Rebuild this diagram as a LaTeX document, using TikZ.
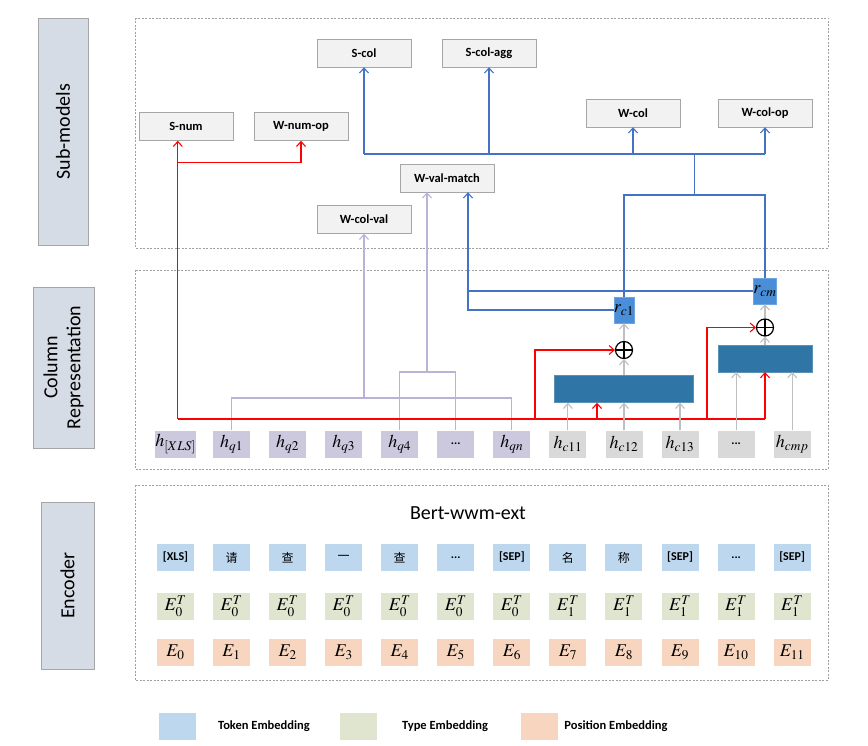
\documentclass[tikz,border=0pt]{standalone}
\usepackage{mathptmx}
\usepackage{fontspec}
\setmainfont{Carlito}
\newfontfamily\cjk{Noto Sans CJK SC}
\usetikzlibrary{arrows.meta}

\definecolor{linegray}{HTML}{A6A6A6}
\definecolor{framegray}{HTML}{A0A0A0}
\definecolor{boxgray}{HTML}{F2F2F2}
\definecolor{sidefill}{HTML}{D6DCE5}
\definecolor{hqfill}{HTML}{CCC8DD}
\definecolor{hcfill}{HTML}{D9D9D9}
\definecolor{encfill}{HTML}{2F75A5}
\definecolor{rfill}{HTML}{4A8ED8}
\definecolor{tokfill}{HTML}{BDD7EE}
\definecolor{typefill}{HTML}{E0E5D0}
\definecolor{posfill}{HTML}{F8D5BE}
\definecolor{bluelinec}{HTML}{4472C4}
\definecolor{purplelinec}{HTML}{BCB2D8}
\definecolor{graylinec}{HTML}{BFBFBF}

\newcommand{\tdots}{{\bfseries\fontsize{12}{12}\selectfont ...}}
\newcommand{\zh}[1]{{\cjk\mdseries\fontsize{12}{14}\selectfont #1}}

\begin{document}
\begin{tikzpicture}[x=1pt, y=-1pt,
  >={Straight Barb[length=5pt,width=9pt]},
  modbox/.style={draw=linegray, fill=boxgray, minimum width=94pt, minimum height=28pt, inner sep=0pt, font=\bfseries\fontsize{12.5}{14}\selectfont},
  sidebox/.style={draw=linegray, fill=sidefill, inner sep=0pt, rotate=90, align=center, font=\fontsize{20}{23}\selectfont},
  cellbox/.style={minimum width=37pt, minimum height=27pt, inner sep=0pt, font=\fontsize{18}{18}\selectfont},
  hqbox/.style={cellbox, fill=hqfill},
  hcbox/.style={cellbox, fill=hcfill},
  tokbox/.style={cellbox, fill=tokfill, font=\bfseries\fontsize{12}{14}\selectfont},
  typebox/.style={cellbox, fill=typefill},
  posbox/.style={cellbox, fill=posfill},
  encbox/.style={fill=encfill, draw=encfill!80!white, minimum height=27pt, inner sep=0pt},
  rvec/.style={fill=rfill, draw=rfill!80!white, minimum height=26pt, inner sep=0pt, font=\fontsize{18}{18}\selectfont},
  addnode/.style={circle, draw=black, line width=1.2pt, fill=white, minimum size=17pt, inner sep=0pt,
    path picture={\draw[line width=1.2pt] (path picture bounding box.north) -- (path picture bounding box.south)
      (path picture bounding box.west) -- (path picture bounding box.east);}},
  framedash/.style={draw=framegray, dashed, dash pattern=on 2pt off 1.5pt, line width=0.5pt},
  blueline/.style={draw=bluelinec, line width=1.1pt},
  redline/.style={draw=red, line width=1.1pt},
  purpleline/.style={draw=purplelinec, line width=1.1pt},
  grayline/.style={draw=graylinec, line width=1.1pt},
  legtext/.style={font=\bfseries\fontsize{12.5}{14}\selectfont}
]
  \useasboundingbox (0,0) rectangle (868,746);

  % frames and side labels
  \draw[framedash] (135,18) rectangle (828,248);
  \draw[framedash] (135,270) rectangle (828,469);
  \draw[framedash] (135,485) rectangle (828,680);
  \node[sidebox, minimum width=227pt, minimum height=50pt] (lsub) at (63,131.5) {Sub-models};
  \node[sidebox, minimum width=161pt, minimum height=61pt] (lcol) at (63.5,367.5) {Column\\Representation};
  \node[sidebox, minimum width=167pt, minimum height=53pt] (lenc) at (67.5,585.5) {Encoder};

  % sub-models
  \node[modbox] (scol) at (364,53) {S-col};
  \node[modbox] (scolagg) at (489,53) {S-col-agg};
  \node[modbox] (snum) at (186,126.5) {S-num};
  \node[modbox] (wnop) at (301,126.5) {W-num-op};
  \node[modbox] (wcol) at (633,113) {W-col};
  \node[modbox] (wcolop) at (765,113) {W-col-op};
  \node[modbox] (wvm) at (447,178) {W-val-match};
  \node[modbox] (wcv) at (364,219.5) {W-col-val};

  % column representation
  \node[hqbox] (hxls) at (175.5,444) {$h_{[XLS]}$};
  \node[hqbox] (hq1) at (231.6,444) {$h_{q1}$};
  \node[hqbox] (hq2) at (287.6,444) {$h_{q2}$};
  \node[hqbox] (hq3) at (343.7,444) {$h_{q3}$};
  \node[hqbox] (hq4) at (399.7,444) {$h_{q4}$};
  \node[hqbox] (hqd) at (455.8,444) {\tdots};
  \node[hqbox] (hqn) at (511.9,444) {$h_{qn}$};
  \node[hcbox] (hc11) at (567.9,444) {$h_{c11}$};
  \node[hcbox] (hc12) at (624,444) {$h_{c12}$};
  \node[hcbox] (hc13) at (680,444) {$h_{c13}$};
  \node[hcbox] (hcd) at (736.1,444) {\tdots};
  \node[hcbox] (hcmp) at (792.2,444) {$h_{cmp}$};

  \node[encbox, minimum width=139pt] (enc1) at (624,389) {};
  \node[encbox, minimum width=94.5pt] (encm) at (765,358.3) {};
  \node[addnode] (add1) at (624,350) {};
  \node[addnode] (addm) at (765,327.5) {};
  \node[rvec, minimum width=19pt] (rc1) at (624,310) {$r_{c1}$};
  \node[rvec, minimum width=22pt] (rcm) at (765,291) {$r_{cm}$};

  % purple links
  \coordinate (pa) at (364,398);
  \coordinate (pb) at (427,372);
  \coordinate (vp) at ([xshift=-20pt]wvm.south);
  \draw[purpleline] (hq1.north) |- (pa) -| (hqn.north);
  \draw[purpleline,->] (pa) -- (wcv.south);
  \draw[purpleline] (hq4.north) |- (pb) -| (hqd.north);
  \draw[purpleline,->] (pb) -- (vp);

  % red links
  \coordinate (sn) at ([xshift=-8.2pt]snum.south);
  \coordinate (rl) at (177.8,419);
  \coordinate (rj) at (177.8,162.7);
  \coordinate (ra) at (535,419);
  \coordinate (rc) at (597,419);
  \coordinate (rb) at (707,419);
  \draw[redline,->] (rl) -- (sn);
  \draw[redline,->] (rj) -| (wnop.south);
  \draw[redline] (rl) -- (rl -| encm.south);
  \draw[redline,->] (rl -| encm.south) -- (encm.south);
  \draw[redline,->] (rc) -- (rc |- enc1.south);
  \draw[redline,->] (ra) |- (add1.west);
  \draw[redline,->] (rb) |- (addm.west);

  % blue links
  \coordinate (jb) at (694.7,195);
  \coordinate (busl) at (364,154);
  \coordinate (busr) at (765,154);
  \coordinate (vb) at ([xshift=21pt]wvm.south);
  \draw[blueline] (rc1.north) |- (jb) -| (rcm.north);
  \draw[blueline] (jb) -- (jb |- busl);
  \draw[blueline] (busl) -- (busr);
  \draw[blueline,->] (busl) -- (scol.south);
  \draw[blueline,->] (scolagg.south |- busl) -- (scolagg.south);
  \draw[blueline,->] (wcol.south |- busl) -- (wcol.south);
  \draw[blueline,->] (busr) -- (wcolop.south);
  \draw[blueline,->] (rc1.west) -| (vb);
  \draw[blueline] (rcm.west) -- (vb |- rcm.west);

  % gray links
  \draw[grayline,->] (hc11.north) -- (hc11.north |- enc1.south);
  \draw[grayline,->] (hc12.north) -- (hc12.north |- enc1.south);
  \draw[grayline,->] (hc13.north) -- (hc13.north |- enc1.south);
  \draw[grayline,->] (hcd.north) -- (hcd.north |- encm.south);
  \draw[grayline,->] (hcmp.north) -- (hcmp.north |- encm.south);
  \draw[grayline,->] (enc1.north) -- (add1.south);
  \draw[grayline,->] (add1.north) -- (rc1.south);
  \draw[grayline,->] (encm.north) -- (addm.south);
  \draw[grayline,->] (addm.north) -- (rcm.south);

  % encoder
  \node[font=\fontsize{20}{24}\selectfont] (bert) at (468,513) {Bert-wwm-ext};
  \foreach \lab [count=\i from 0] in {[XLS], \zh{请}, \zh{查}, \zh{一}, \zh{查}, \tdots, [SEP], \zh{名}, \zh{称}, [SEP], \tdots, [SEP]}
    \node[tokbox] (tok\i) at ({175.5+56.06*\i},557.5) {\lab};
  \foreach \k [count=\i from 0] in {0,0,0,0,0,0,0,1,1,1,1,1}
    \node[typebox] (typ\i) at ({175.5+56.06*\i},606) {$E_{\k}^{T}$};
  \foreach \i in {0,...,11}
    \node[posbox] (pe\i) at ({175.5+56.06*\i},652.5) {$E_{\i}$};

  % legend
  \node[cellbox, fill=tokfill] (ltok) at (177,726.5) {};
  \node[cellbox, fill=typefill] (ltype) at (358,726.5) {};
  \node[cellbox, fill=posfill] (lpos) at (539,726.5) {};
  \node[legtext] (ttok) at (264,726.5) {Token Embedding};
  \node[legtext] (ttype) at (445,726.5) {Type Embedding};
  \node[legtext] (tpos) at (616,726.5) {Position Embedding};
\end{tikzpicture}
\end{document}
